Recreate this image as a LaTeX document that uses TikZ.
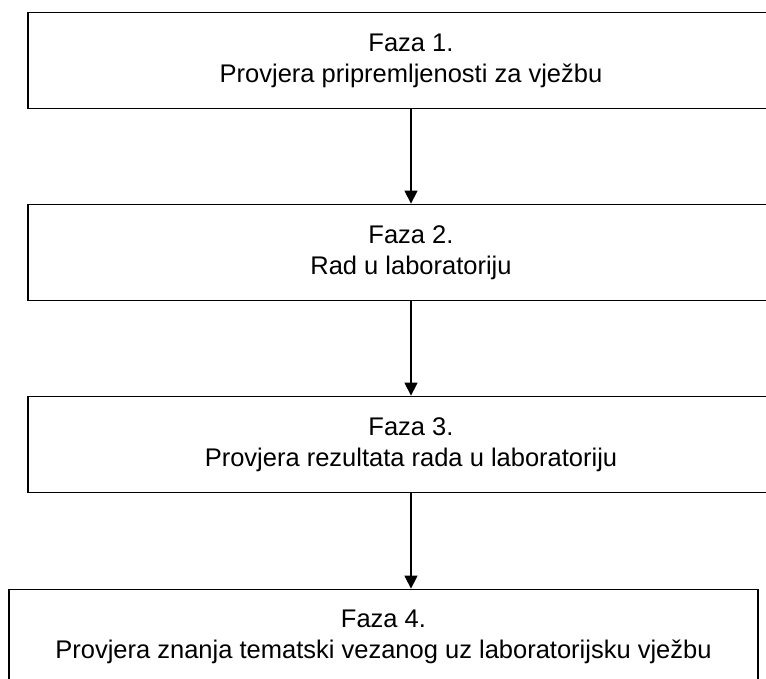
\documentclass[tikz,border=0pt]{standalone}
\usepackage{fontspec}
\setmainfont{Liberation Sans}
\usetikzlibrary{arrows.meta}
\begin{document}
\begin{tikzpicture}[x=1pt,y=-1pt,
  phase/.style={draw=black, line width=1.4pt, fill=white, inner sep=0pt,
    minimum height=96pt, align=center,
    font=\fontsize{25.5}{31}\selectfont},
  wide/.style={minimum width=766pt},
  last/.style={minimum width=749pt},
  flow/.style={line width=1.3pt, -{Triangle[length=13pt,width=13pt]}}]
\useasboundingbox (0,0) rectangle (766,678);
\begin{scope}
\clip (0,0) rectangle (766,678);
\node[phase, wide] (f1) at (411,60.5) {Faza 1.\\Provjera pripremljenosti za vježbu};
\node[phase, wide] (f2) at (411,252.3) {Faza 2.\\Rad u laboratoriju};
\node[phase, wide] (f3) at (411,444.3) {Faza 3.\\Provjera rezultata rada u laboratoriju};
\node[phase, last] (f4) at (383.5,637.3) {Faza 4.\\Provjera znanja tematski vezanog uz laboratorijsku vježbu};
\draw[flow] (f1.south) -- (f2.north);
\draw[flow] (f2.south) -- (f3.north);
\draw[flow] (f3.south) -- (f3.south |- f4.north);
\end{scope}
\end{tikzpicture}
\end{document}
